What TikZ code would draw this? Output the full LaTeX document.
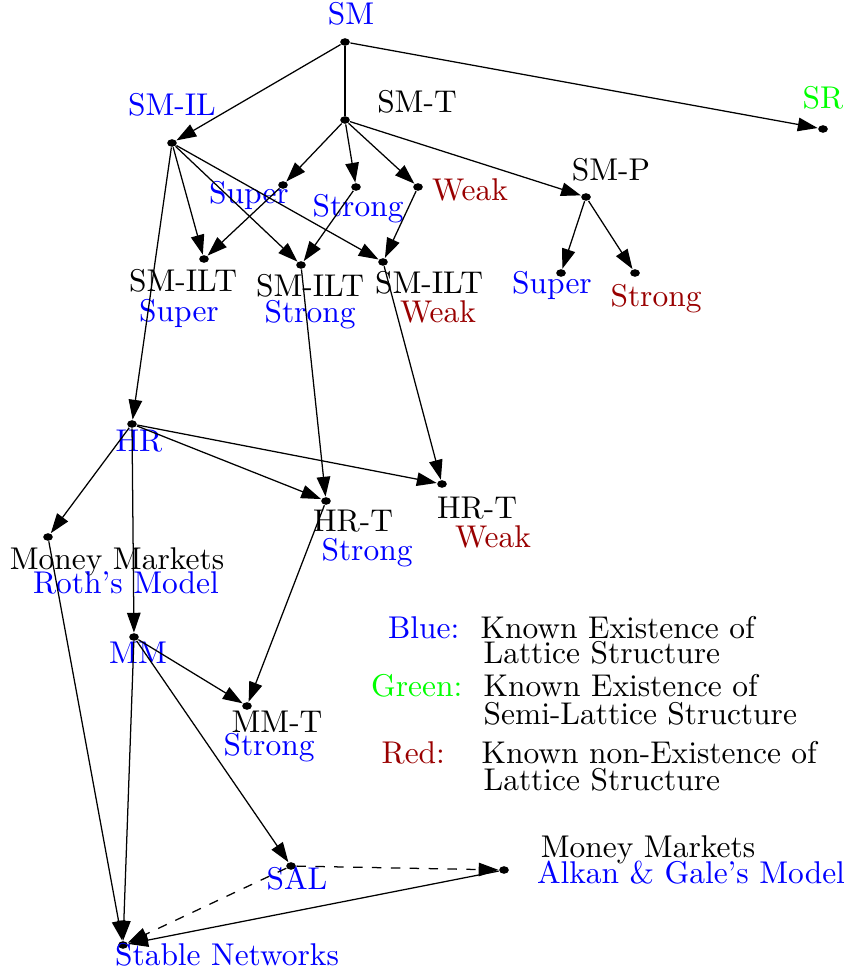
\documentclass[tikz,border=0pt]{standalone}
\usepackage{xcolor}
\usepackage{tikz}
\usetikzlibrary{arrows.meta, shapes.geometric}
\definecolor{latblue}{HTML}{0000FF}
\definecolor{latgreen}{HTML}{00FF00}
\definecolor{latred}{HTML}{990000}

\begin{document}
\begin{tikzpicture}[x=0.318pt, y=-0.318pt,
    dot/.style={ellipse, fill=black, inner sep=0pt, minimum width=3.1pt, minimum height=2.4pt},
    lbl/.style={anchor=base, inner sep=0pt},
    key/.style={anchor=base west, inner sep=0pt},
    arr/.style={-{Triangle[length=6.3pt,width=4.3pt]}}]
    \useasboundingbox (0,0) rectangle (849,976);

    % points of the lattice
    \node[dot] (sm) at (345,42) {};
    \node[dot] (sr) at (823,129) {};
    \node[dot] (smil) at (172,143) {};
    \node[dot] (smt) at (345,120) {};
    \node[dot] (tsuper) at (283,185) {};
    \node[dot] (tstrong) at (356,187) {};
    \node[dot] (tweak) at (418,187) {};
    \node[dot] (smp) at (586,197) {};
    \node[dot] (psuper) at (561,273) {};
    \node[dot] (pstrong) at (635,273) {};
    \node[dot] (iltsuper) at (204,259) {};
    \node[dot] (iltstrong) at (301,265) {};
    \node[dot] (iltweak) at (383,262) {};
    \node[dot] (hr) at (132,424) {};
    \node[dot] (hrtstrong) at (326,501) {};
    \node[dot] (hrtweak) at (442,484) {};
    \node[dot] (roth) at (48,537) {};
    \node[dot] (mm) at (134,637) {};
    \node[dot] (mmt) at (247,706) {};
    \node[dot] (sal) at (291,866) {};
    \node[dot] (alkan) at (504,870) {};
    \node[dot] (stable) at (123,945) {};

    % names of the points
    \node[lbl, text=latblue] (lsm) at (351,25) {SM};
    \node[lbl, text=latgreen] (lsr) at (823,109) {SR};
    \node[lbl, text=latblue] (lsmil) at (172,116) {SM-IL};
    \node[lbl] (lsmt) at (417,113) {SM-T};
    \node[lbl, text=latblue] (ltsuper) at (249,204) {Super};
    \node[lbl, text=latblue] (ltstrong) at (358,217) {Strong};
    \node[lbl, text=latred] (ltweak) at (470,201) {Weak};
    \node[lbl] (lsmp) at (611,181) {SM-P};
    \node[lbl, text=latblue] (lpsuper) at (552,294) {Super};
    \node[lbl, text=latred] (lpstrong) at (656,306) {Strong};
    \node[lbl] (liltsuper) at (183,292) {SM-ILT};
    \node[lbl, text=latblue] (liltsuperb) at (179,321) {Super};
    \node[lbl] (liltstrong) at (310,296) {SM-ILT};
    \node[lbl, text=latblue] (liltstrongb) at (310,323) {Strong};
    \node[lbl] (liltweak) at (429,294) {SM-ILT};
    \node[lbl, text=latred] (liltweakb) at (438,323) {Weak};
    \node[lbl, text=latblue] (lhr) at (139,451) {HR};
    \node[lbl] (lhrtstrong) at (353,531) {HR-T};
    \node[lbl, text=latblue] (lhrtstrongb) at (367,560) {Strong};
    \node[lbl] (lhrtweak) at (477,518) {HR-T};
    \node[lbl, text=latred] (lhrtweakb) at (493,547) {Weak};
    \node[lbl] (lroth) at (117,569) {Money Markets};
    \node[lbl, text=latblue] (lrothb) at (126,593) {Roth's Model};
    \node[lbl, text=latblue] (lmm) at (138,663) {MM};
    \node[lbl] (lmmt) at (277,732) {MM-T};
    \node[lbl, text=latblue] (lmmtb) at (269,755) {Strong};
    \node[lbl, text=latblue] (lsal) at (297,889) {SAL};
    \node[lbl] (lalkan) at (648,857) {Money Markets};
    \node[lbl, text=latblue] (lalkanb) at (691,883) {Alkan \& Gale's Model};
    \node[lbl, text=latblue] (lstable) at (227,965) {Stable Networks};

    % legend
    \node[anchor=base east, inner sep=0pt, text=latblue] (kblue) at (460,638) {Blue:};
    \node[key] (kbluea) at (480,638) {Known Existence of};
    \node[key] (kblueb) at (483,663) {Lattice Structure};
    \node[anchor=base east, inner sep=0pt, text=latgreen] (kgreen) at (463,696) {Green:};
    \node[key] (kgreena) at (483,696) {Known Existence of};
    \node[key] (kgreenb) at (483,724) {Semi-Lattice Structure};
    \node[key, text=latred] (kred) at (381,763) {Red:};
    \node[key] (kreda) at (481,763) {Known non-Existence of};
    \node[key] (kredb) at (483,790) {Lattice Structure};

    % arrows
    \draw[arr] (sm) -- (smil);
    \draw (sm) -- (smt);
    \draw[arr] (sm) -- (sr);
    \draw[arr] (smt) -- (tsuper);
    \draw[arr] (smt) -- (tstrong);
    \draw[arr] (smt) -- (tweak);
    \draw[arr] (smt) -- (smp);
    \draw[arr] (smp) -- (psuper);
    \draw[arr] (smp) -- (pstrong);
    \draw[arr] (smil) -- (iltsuper);
    \draw[arr] (smil) -- (iltstrong);
    \draw[arr] (smil) -- (iltweak);
    \draw[arr] (tsuper) -- (iltsuper);
    \draw[arr] (tstrong) -- (iltstrong);
    \draw[arr] (tweak) -- (iltweak);
    \draw[arr] (smil) -- (hr);
    \draw[arr] (iltstrong) -- (hrtstrong);
    \draw[arr] (iltweak) -- (hrtweak);
    \draw[arr] (hr) -- (roth);
    \draw[arr] (hr) -- (hrtstrong);
    \draw[arr] (hr) -- (hrtweak);
    \draw[arr] (hr) -- (mm);
    \draw[arr] (hrtstrong) -- (mmt);
    \draw[arr] (mm) -- (mmt);
    \draw[arr] (mm) -- (sal);
    \draw[arr] (mm) -- (stable);
    \draw[arr] (roth) -- (stable);
    \draw[arr, dashed] (sal) -- (alkan);
    \draw[arr, dashed] (sal) -- (stable);
    \draw[arr] (alkan) -- (stable);
\end{tikzpicture}
\end{document}
